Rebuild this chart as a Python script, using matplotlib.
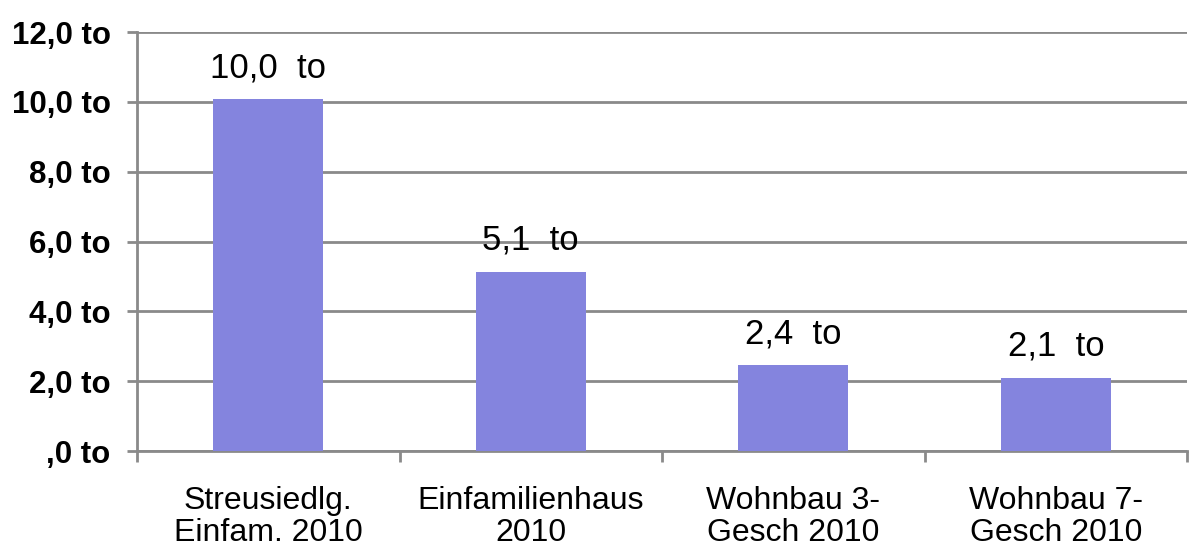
import matplotlib
matplotlib.use("Agg")
import matplotlib.pyplot as plt
import numpy as np

categories = ["Streusiedlg.\nEinfam. 2010", "Einfamilienhaus\n2010", "Wohnbau 3-\nGesch 2010", "Wohnbau 7-\nGesch 2010"]
values = [10.07, 5.14, 2.45, 2.1]
value_labels = ["10,0  to", "5,1  to", "2,4  to", "2,1  to"]
y_ticks = [0, 2, 4, 6, 8, 10, 12]
y_tick_labels = [",0 to", "2,0 to", "4,0 to", "6,0 to", "8,0 to", "10,0 to", "12,0 to"]

plt.rcParams['font.family'] = ['Liberation Sans', 'DejaVu Sans']

fig = plt.figure(figsize=(11.91, 5.57), dpi=100)
ax = fig.add_axes([0.115, 0.1903, 0.8818, 0.7522])

grid_c = "#8a8a8a"
x = np.arange(len(categories))
bars = ax.bar(x, values, width=0.42, color="#8484de", zorder=3)

ax.set_xlim(-0.5, len(categories) - 0.5)
ax.set_ylim(0, 12)
ax.set_yticks(y_ticks)
ax.set_yticklabels(y_tick_labels, fontsize=22.5, fontweight="bold")
ax.yaxis.grid(True, color=grid_c, linewidth=2.0, zorder=0)
ax.set_axisbelow(True)

ax.set_xticks(x)
ax.set_xticklabels(categories, fontsize=23, linespacing=1.12)
ax.tick_params(axis="x", length=0, pad=25)
ax.set_xticks(np.arange(-0.5, len(categories)), minor=True)
ax.tick_params(axis="x", which="minor", length=8, width=2, color=grid_c, direction="out")
ax.tick_params(axis="y", length=7, width=2, color=grid_c, pad=12)

for s in ["top", "right"]:
    ax.spines[s].set_visible(False)
for s in ["left", "bottom"]:
    ax.spines[s].set_color(grid_c)
    ax.spines[s].set_linewidth(2)

for xi, v, lab in zip(x, values, value_labels):
    ax.annotate(lab, (xi, v), xytext=(0, 11), textcoords="offset points",
                ha="center", va="bottom", fontsize=25)

fig.savefig("out.png", dpi=100)
